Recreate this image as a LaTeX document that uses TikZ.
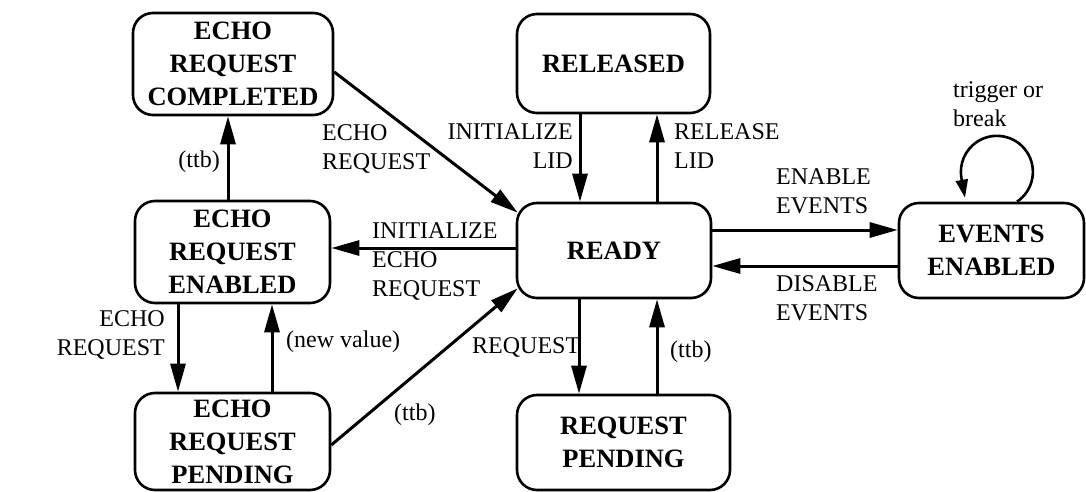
\documentclass[tikz,border=0pt]{standalone}
\usepackage{fontspec}
\setmainfont{Liberation Serif}
\usetikzlibrary{arrows.meta}
\begin{document}
\begin{tikzpicture}[x=1pt,y=-1pt,
  state/.style={draw, line width=2.6pt, rounded corners=20pt, inner sep=0pt,
    align=center, font=\fontsize{26.5}{33}\selectfont\bfseries},
  lbl/.style={inner sep=0pt, font=\fontsize{24}{29}\selectfont},
  arr/.style={line width=3pt, -{Triangle[length=28pt,width=15pt]}},
  looparr/.style={line width=2.6pt, -{Triangle[length=18pt,width=12pt]}},
]
\useasboundingbox (0,0) rectangle (1086,492);

% states
\node[state, minimum width=200pt, minimum height=102pt] (comp)  at (233,64)    {ECHO\\REQUEST\\COMPLETED};
\node[state, minimum width=195pt, minimum height=102pt] (een)   at (232.5,252) {ECHO\\REQUEST\\ENABLED};
\node[state, minimum width=195pt, minimum height=97pt]  (epend) at (232.5,441.5) {ECHO\\REQUEST\\PENDING};
\node[state, minimum width=193pt, minimum height=99pt]  (rel)   at (613.5,63.5) {RELEASED};
\node[state, minimum width=194pt, minimum height=95pt]  (ready) at (614,250.5)  {READY};
\node[state, minimum width=213pt, minimum height=95pt]  (rpend) at (623.5,442.5) {REQUEST\\PENDING};
\node[state, minimum width=185pt, minimum height=95pt]  (evt)   at (991.5,250.5) {EVENTS\\ENABLED};

% transitions of the echo column
\draw[arr] ([xshift=-4.5pt]een.north) -- ([xshift=-4.5pt]een.north |- comp.south);
\draw[arr] ([xshift=-54.5pt]een.south) -- ([xshift=-54.5pt]een.south |- epend.north);
\draw[arr] ([xshift=39.5pt]epend.north) -- ([xshift=39.5pt]epend.north |- een.south);

% transitions into and out of READY
\draw[arr] ([yshift=-8pt]comp.east) -- ([shift={(2pt,-11pt)}]ready.north west);
\draw[arr] ([yshift=-3.5pt]epend.east) -- ([shift={(2pt,11pt)}]ready.south west);
\draw[arr] ([yshift=2.5pt]ready.west) -- ([yshift=2.5pt]ready.west -| een.east);
\draw[arr] ([xshift=-34pt]ready.north |- rel.south) -- ([xshift=-34pt]ready.north);
\draw[arr] ([xshift=43pt]ready.north) -- ([xshift=43pt]ready.north |- rel.south);
\draw[arr] ([xshift=-35pt]ready.south) -- ([xshift=-35pt]ready.south |- rpend.north);
\draw[arr] ([xshift=43pt]ready.south |- rpend.north) -- ([xshift=43pt]ready.south);
\draw[arr] ([yshift=20.5pt]ready.east) -- ([yshift=20.5pt]ready.east -| evt.west);
\draw[arr] ([yshift=-15.5pt]ready.east -| evt.west) -- ([yshift=-15.5pt]ready.east);

% self loop on EVENTS ENABLED
\draw[looparr] ([xshift=25.5pt]evt.north) arc[start angle=-56, end angle=190, radius=36pt]
  -- ([shift={(-26.5pt,4pt)}]evt.north);

% transition labels
\node[lbl, anchor=west, align=left]  (l1)  at (322,149) {ECHO\\REQUEST};
\node[lbl, anchor=east]              (l2)  at (220,162) {(ttb)};
\node[lbl, anchor=east, align=right] (l3)  at (573,146) {INITIALIZE\\LID};
\node[lbl, anchor=west, align=left]  (l4)  at (674,146) {RELEASE\\LID};
\node[lbl, anchor=west, align=left]  (l5)  at (776,191) {ENABLE\\EVENTS};
\node[lbl, anchor=west, align=left]  (l6)  at (776,298) {DISABLE\\EVENTS};
\node[lbl, anchor=west, align=left]  (l7)  at (953,104) {trigger or\\break};
\node[lbl, anchor=west, align=left]  (l8)  at (372,262) {INITIALIZE\\ECHO\\REQUEST};
\node[lbl, anchor=east, align=right] (l9)  at (165,335) {ECHO\\REQUEST};
\node[lbl, anchor=west]              (l10) at (286,342) {(new value)};
\node[lbl, anchor=west]              (l11) at (472,347) {REQUEST};
\node[lbl, anchor=west]              (l12) at (394,415) {(ttb)};
\node[lbl, anchor=west]              (l13) at (670,352) {(ttb)};
\end{tikzpicture}
\end{document}
